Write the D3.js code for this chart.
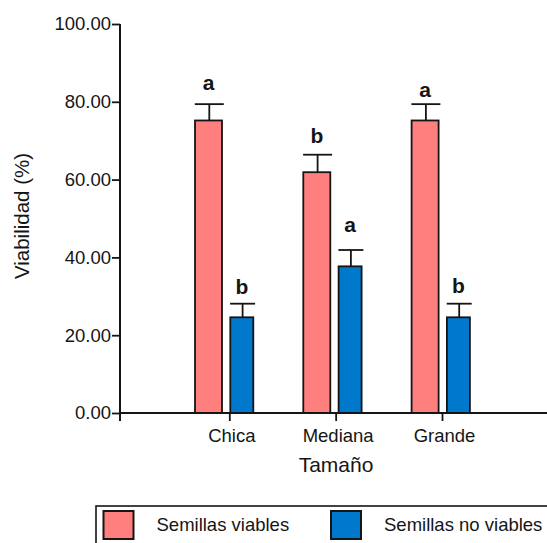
<!DOCTYPE html>
<html>
<head>
<meta charset="utf-8">
<script src="https://cdn.jsdelivr.net/npm/d3@7"></script>
<style>
  html, body { margin: 0; padding: 0; background: #fff; }
  svg { display: block; font-family: "Liberation Sans", Arial, sans-serif; }
</style>
</head>
<body>
<svg id="chart" width="547" height="543"></svg>
<script>
// Seed viability by seed size: mean and upper error per group
const categories = ["Chica", "Mediana", "Grande"];
const seriesNames = ["Semillas viables", "Semillas no viables"];
const viables = [75.2, 61.9, 75.2];
const viablesErr = [4.2, 4.5, 4.2];
const noViables = [24.6, 37.7, 24.6];
const noViablesErr = [3.5, 4.2, 3.5];
const viablesLetters = ["a", "b", "a"];
const noViablesLetters = ["b", "a", "b"];
const yTicks = [0, 20, 40, 60, 80, 100];
const yTitle = "Viabilidad (%)";
const xTitle = "Tamaño";

const colors = ["#ff7f7f", "#0079cd"];
const ink = "#151515";

const svg = d3.select("#chart");

// Plot frame
const plotLeft = 120, plotRight = 547, plotTop = 24, plotBottom = 413;

const y = d3.scaleLinear().domain([0, 100]).range([plotBottom, plotTop]);

// Group centres for the bars and the category tick positions on the axis
const xGroup = d3.scalePoint().domain(categories).range([224.2, 440.8]);
const xTick = d3.scalePoint().domain(categories).range([229.3, 442]);

const barW = [27, 23];
const barLeft = [-29.2, 6.1]; // offsets from group centre

const series = [
  { values: viables, err: viablesErr, letters: viablesLetters },
  { values: noViables, err: noViablesErr, letters: noViablesLetters }
];

// Small per-label vertical nudges for the significance letters (px above the cap)
const letterGap = [[14, 12, 7], [10, 18, 11]];

const g = svg.append("g");

series.forEach((s, si) => {
  categories.forEach((c, ci) => {
    const x0 = xGroup(c) + barLeft[si];
    const w = barW[si];
    const v = s.values[ci];
    const capY = y(v + s.err[ci]);
    const cx = x0 + w / 2 + 0.8;

    // error bar (upper only)
    g.append("line")
      .attr("x1", cx).attr("x2", cx)
      .attr("y1", y(v)).attr("y2", capY)
      .attr("stroke", ink).attr("stroke-width", 1.8);
    g.append("line")
      .attr("x1", cx - (w + 2) / 2).attr("x2", cx + (w + 2) / 2)
      .attr("y1", capY).attr("y2", capY)
      .attr("stroke", ink).attr("stroke-width", 1.8);

    // bar
    g.append("rect")
      .attr("x", x0).attr("y", y(v))
      .attr("width", w).attr("height", y(0) - y(v))
      .attr("fill", colors[si])
      .attr("stroke", ink).attr("stroke-width", 1.8);

    // significance letter
    g.append("text")
      .attr("x", x0 + w / 2)
      .attr("y", capY - letterGap[si][ci])
      .attr("text-anchor", "middle")
      .attr("font-size", 21).attr("font-weight", "bold")
      .attr("fill", ink)
      .text(s.letters[ci]);
  });
});

// Y axis
const yAxis = d3.axisLeft(y).tickValues(yTicks).tickSize(8).tickPadding(1)
  .tickFormat(d3.format(".2f"));
const yg = svg.append("g").attr("transform", `translate(${plotLeft},0)`).call(yAxis);
yg.select(".domain").remove();
yg.selectAll(".tick line").attr("stroke", ink).attr("stroke-width", 1.8);
yg.selectAll(".tick text").attr("font-size", 18.5).attr("fill", ink)
  .attr("font-family", "Liberation Sans, Arial, sans-serif");
svg.append("line")
  .attr("x1", plotLeft).attr("x2", plotLeft)
  .attr("y1", plotTop).attr("y2", plotBottom + 8)
  .attr("stroke", ink).attr("stroke-width", 2);

// X axis
const xAxis = d3.axisBottom(xTick).tickSize(8).tickPadding(8);
const xg = svg.append("g").attr("transform", `translate(0,${plotBottom})`).call(xAxis);
xg.select(".domain").remove();
xg.selectAll(".tick line").attr("stroke", ink).attr("stroke-width", 1.8);
xg.selectAll(".tick text").attr("font-size", 18.5).attr("fill", ink)
  .attr("dx", 2).attr("font-family", "Liberation Sans, Arial, sans-serif");
svg.append("line")
  .attr("x1", plotLeft).attr("x2", plotRight)
  .attr("y1", plotBottom).attr("y2", plotBottom)
  .attr("stroke", ink).attr("stroke-width", 2);

// Axis titles
svg.append("text")
  .attr("transform", `translate(29,216) rotate(-90)`)
  .attr("text-anchor", "middle")
  .attr("font-size", 20.5).attr("fill", ink)
  .text(yTitle);
svg.append("text")
  .attr("x", 336).attr("y", 472)
  .attr("text-anchor", "middle")
  .attr("font-size", 21).attr("fill", ink)
  .text(xTitle);

// Legend
const lg = svg.append("g");
lg.append("rect")
  .attr("x", 96).attr("y", 506)
  .attr("width", 470).attr("height", 60)
  .attr("fill", "none").attr("stroke", ink).attr("stroke-width", 1.6);
const legendX = [103.5, 331];
seriesNames.forEach((name, i) => {
  lg.append("rect")
    .attr("x", legendX[i]).attr("y", 511)
    .attr("width", 30).attr("height", 28)
    .attr("fill", colors[i])
    .attr("stroke", ink).attr("stroke-width", 2);
  lg.append("text")
    .attr("x", legendX[i] + 53).attr("y", 531)
    .attr("font-size", 18.5).attr("fill", ink)
    .text(name);
});
</script>
</body>
</html>
